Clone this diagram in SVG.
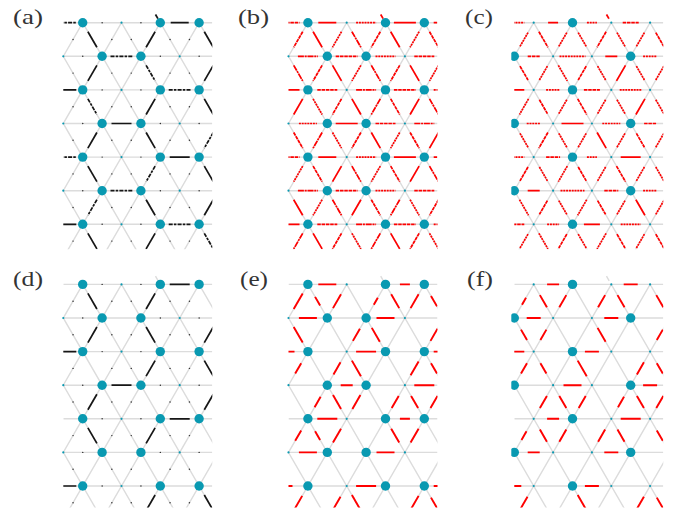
<svg xmlns="http://www.w3.org/2000/svg" width="684" height="515" viewBox="0 0 684 515">
<style>
.lat{fill:none;stroke:#dcdcdc;stroke-width:1.4}
.k{stroke:#161616;stroke-width:1.7}
.kd{stroke:#161616;stroke-width:1.7;stroke-dasharray:4 1.2 2.5 1.2}
.tk{fill:none;stroke:#333;stroke-width:1.4;stroke-linecap:round}
.r{stroke:#ff0000;stroke-width:1.7}
.ra{stroke:#ff0000;stroke-width:1.7;stroke-dasharray:3.5 0.8}
.rb{stroke:#ff0000;stroke-width:1.7;stroke-dasharray:2 0.8}
.rc{stroke:#ff0000;stroke-width:1.7;stroke-dasharray:6 0.8 2 0.8}
.rs{stroke:#ff0000;stroke-width:1.9}
.big{fill:#0999b1}
.sm{fill:#0999b1}
.lbl{font-family:"Liberation Serif",serif;font-size:21px;fill:#333}
</style>
<defs>
<clipPath id="clipT"><rect x="0" y="-10" width="149" height="236.5"/></clipPath>
<clipPath id="clipB"><rect x="0" y="-10" width="149" height="233"/></clipPath>
<clipPath id="clipD"><rect x="-3" y="-10" width="160" height="240"/></clipPath>
<line id="h8" x1="-4" x2="4"/><line id="h10" x1="-5" x2="5"/><line id="h12" x1="-6" x2="6"/>
<line id="h14" x1="-7" x2="7"/><line id="h16" x1="-8" x2="8"/><line id="h18" x1="-9" x2="9"/>
<line id="h20" x1="-10" x2="10"/><line id="h22" x1="-11" x2="11"/><line id="h24" x1="-12" x2="12"/>
<line id="h26" x1="-13" x2="13"/>
<line id="b8" x1="-2" y1="-3.464" x2="2" y2="3.464"/><line id="f8" x1="2" y1="-3.464" x2="-2" y2="3.464"/>
<line id="b10" x1="-2.5" y1="-4.33" x2="2.5" y2="4.33"/><line id="f10" x1="2.5" y1="-4.33" x2="-2.5" y2="4.33"/>
<line id="b12" x1="-3" y1="-5.196" x2="3" y2="5.196"/><line id="f12" x1="3" y1="-5.196" x2="-3" y2="5.196"/>
<line id="b14" x1="-3.5" y1="-6.062" x2="3.5" y2="6.062"/><line id="f14" x1="3.5" y1="-6.062" x2="-3.5" y2="6.062"/>
<line id="b16" x1="-4" y1="-6.928" x2="4" y2="6.928"/><line id="f16" x1="4" y1="-6.928" x2="-4" y2="6.928"/>
<line id="b18" x1="-4.5" y1="-7.794" x2="4.5" y2="7.794"/><line id="f18" x1="4.5" y1="-7.794" x2="-4.5" y2="7.794"/>
<line id="b20" x1="-5" y1="-8.66" x2="5" y2="8.66"/><line id="f20" x1="5" y1="-8.66" x2="-5" y2="8.66"/>
<path id="lat" class="lat" d="M0 0H149M0 33.6H149M0 67.2H149M0 100.8H149M0 134.4H149M0 168H149M0 201.6H149M-135.8 0l155.2 268.8M-97 0l155.2 268.8M-58.2 0l155.2 268.8M-19.4 0l155.2 268.8M19.4 0l155.2 268.8M58.2 0l155.2 268.8M97 0l155.2 268.8M135.8 0l155.2 268.8M19.4 0l-155.2 268.8M58.2 0l-155.2 268.8M97 0l-155.2 268.8M135.8 0l-155.2 268.8M174.6 0l-155.2 268.8M213.4 0l-155.2 268.8M252.2 0l-155.2 268.8M92.2 -8.2L94.9 -3.6"/>
<path id="ticks" class="tk" d="M38.8 0h.1M77.6 0h.1M38.8 67.2h.1M77.6 67.2h.1M38.8 134.4h.1M77.6 134.4h.1M38.8 201.6h.1M77.6 201.6h.1M19.4 33.6h.1M97 33.6h.1M135.8 33.6h.1M19.4 100.8h.1M97 100.8h.1M135.8 100.8h.1M19.4 168h.1M97 168h.1M135.8 168h.1M9.7 16.8h.1M48.5 16.8h.1M67.9 16.8h.1M106.7 16.8h.1M126.1 16.8h.1M9.7 50.4h.1M48.5 50.4h.1M67.9 50.4h.1M106.7 50.4h.1M126.1 50.4h.1M9.7 84h.1M48.5 84h.1M67.9 84h.1M106.7 84h.1M126.1 84h.1M9.7 117.6h.1M48.5 117.6h.1M67.9 117.6h.1M106.7 117.6h.1M126.1 117.6h.1M9.7 151.2h.1M48.5 151.2h.1M67.9 151.2h.1M106.7 151.2h.1M126.1 151.2h.1M9.7 184.8h.1M48.5 184.8h.1M67.9 184.8h.1M106.7 184.8h.1M126.1 184.8h.1M9.7 218.4h.1M48.5 218.4h.1M67.9 218.4h.1M106.7 218.4h.1M126.1 218.4h.1"/>
<g id="dotsHC">
<circle class="big" cx="19.4" cy="0" r="4.7"/><circle class="big" cx="97" cy="0" r="4.7"/><circle class="big" cx="135.8" cy="0" r="4.7"/>
<circle class="big" cx="38.8" cy="33.6" r="4.7"/><circle class="big" cx="77.6" cy="33.6" r="4.7"/>
<circle class="big" cx="19.4" cy="67.2" r="4.7"/><circle class="big" cx="97" cy="67.2" r="4.7"/><circle class="big" cx="135.8" cy="67.2" r="4.7"/>
<circle class="big" cx="38.8" cy="100.8" r="4.7"/><circle class="big" cx="77.6" cy="100.8" r="4.7"/>
<circle class="big" cx="19.4" cy="134.4" r="4.7"/><circle class="big" cx="97" cy="134.4" r="4.7"/><circle class="big" cx="135.8" cy="134.4" r="4.7"/>
<circle class="big" cx="38.8" cy="168" r="4.7"/><circle class="big" cx="77.6" cy="168" r="4.7"/>
<circle class="big" cx="19.4" cy="201.6" r="4.7"/><circle class="big" cx="97" cy="201.6" r="4.7"/><circle class="big" cx="135.8" cy="201.6" r="4.7"/>
<circle class="sm" cx="58.2" cy="0" r="1.1"/><circle class="sm" cx="58.2" cy="67.2" r="1.1"/><circle class="sm" cx="58.2" cy="134.4" r="1.1"/><circle class="sm" cx="58.2" cy="201.6" r="1.1"/>
<circle class="sm" cx="0" cy="33.6" r="1.1"/><circle class="sm" cx="116.4" cy="33.6" r="1.1"/><circle class="sm" cx="0" cy="100.8" r="1.1"/><circle class="sm" cx="116.4" cy="100.8" r="1.1"/><circle class="sm" cx="0" cy="168" r="1.1"/><circle class="sm" cx="116.4" cy="168" r="1.1"/>
</g>
<g id="dotsTR">
<circle class="sm" cx="19.4" cy="0" r="1.1"/><circle class="sm" cx="97" cy="0" r="1.1"/><circle class="sm" cx="135.8" cy="0" r="1.1"/>
<circle class="sm" cx="38.8" cy="33.6" r="1.1"/><circle class="sm" cx="77.6" cy="33.6" r="1.1"/>
<circle class="sm" cx="19.4" cy="67.2" r="1.1"/><circle class="sm" cx="97" cy="67.2" r="1.1"/><circle class="sm" cx="135.8" cy="67.2" r="1.1"/>
<circle class="sm" cx="38.8" cy="100.8" r="1.1"/><circle class="sm" cx="77.6" cy="100.8" r="1.1"/>
<circle class="sm" cx="19.4" cy="134.4" r="1.1"/><circle class="sm" cx="97" cy="134.4" r="1.1"/><circle class="sm" cx="135.8" cy="134.4" r="1.1"/>
<circle class="sm" cx="38.8" cy="168" r="1.1"/><circle class="sm" cx="77.6" cy="168" r="1.1"/>
<circle class="sm" cx="19.4" cy="201.6" r="1.1"/><circle class="sm" cx="97" cy="201.6" r="1.1"/><circle class="sm" cx="135.8" cy="201.6" r="1.1"/>
<circle class="big" cx="58.2" cy="0" r="4.7"/><circle class="big" cx="58.2" cy="67.2" r="4.7"/><circle class="big" cx="58.2" cy="134.4" r="4.7"/><circle class="big" cx="58.2" cy="201.6" r="4.7"/>
<circle class="big" cx="0" cy="33.6" r="4.7"/><circle class="big" cx="116.4" cy="33.6" r="4.7"/><circle class="big" cx="0" cy="100.8" r="4.7"/><circle class="big" cx="116.4" cy="100.8" r="4.7"/><circle class="big" cx="0" cy="168" r="4.7"/><circle class="big" cx="116.4" cy="168" r="4.7"/>
</g>
</defs>

<g id="labels">
<text class="lbl" x="13" y="24" textLength="30" lengthAdjust="spacingAndGlyphs">(a)</text>
<text class="lbl" x="238" y="24" textLength="31" lengthAdjust="spacingAndGlyphs">(b)</text>
<text class="lbl" x="465" y="24" textLength="28" lengthAdjust="spacingAndGlyphs">(c)</text>
<text class="lbl" x="13" y="285.5" textLength="30" lengthAdjust="spacingAndGlyphs">(d)</text>
<text class="lbl" x="240" y="285.5" textLength="28" lengthAdjust="spacingAndGlyphs">(e)</text>
<text class="lbl" x="467" y="285.5" textLength="26" lengthAdjust="spacingAndGlyphs">(f)</text>
</g>

<!-- (a) -->
<g id="panel-a" transform="translate(63.3 22.7)">
<g clip-path="url(#clipT)">
<use href="#lat"/>
<use href="#ticks"/>
<g id="a-connectors">
<line class="k" x1="92.2" y1="-8.2" x2="94.6" y2="-4.1"/>
<use href="#h26" x="0" y="0" class="kd"/><use href="#h18" x="116.4" y="0" class="k"/>
<use href="#h22" x="58.2" y="33.6" class="kd"/>
<use href="#h26" x="0" y="67.2" class="k"/><use href="#h22" x="116.4" y="67.2" class="kd"/>
<use href="#h20" x="58.2" y="100.8" class="k"/>
<use href="#h26" x="0" y="134.4" class="kd"/><use href="#h20" x="116.4" y="134.4" class="k"/>
<use href="#h22" x="58.2" y="168" class="kd"/>
<use href="#h26" x="0" y="201.6" class="k"/><use href="#h22" x="116.4" y="201.6" class="kd"/>
<use href="#b18" x="29.1" y="16.8" class="k"/><use href="#f18" x="87.3" y="16.8" class="k"/><use href="#b18" x="145.5" y="16.8" class="k"/>
<use href="#f18" x="29.1" y="50.4" class="k"/><use href="#b18" x="87.3" y="50.4" class="kd"/><use href="#f18" x="145.5" y="50.4" class="k"/>
<use href="#b18" x="29.1" y="84" class="kd"/><use href="#f18" x="87.3" y="84" class="k"/><use href="#b18" x="145.5" y="84" class="k"/>
<use href="#f18" x="29.1" y="117.6" class="k"/><use href="#b18" x="87.3" y="117.6" class="k"/><use href="#f18" x="145.5" y="117.6" class="kd"/>
<use href="#b18" x="29.1" y="151.2" class="k"/><use href="#f18" x="87.3" y="151.2" class="kd"/><use href="#b18" x="145.5" y="151.2" class="k"/>
<use href="#f18" x="29.1" y="184.8" class="kd"/><use href="#b18" x="87.3" y="184.8" class="k"/><use href="#f18" x="145.5" y="184.8" class="k"/>
<use href="#b18" x="29.1" y="218.4" class="k"/><use href="#f18" x="87.3" y="218.4" class="k"/><use href="#b18" x="145.5" y="218.4" class="kd"/>
</g>
</g>
<g id="a-nodes" clip-path="url(#clipD)"><use href="#dotsHC"/></g>
</g>

<!-- (b) -->
<g id="panel-b" transform="translate(288.5 22.7)">
<g clip-path="url(#clipT)">
<use href="#lat"/>
<g id="b-connectors">
<line class="r" x1="92.2" y1="-8.2" x2="94.6" y2="-4.1"/>
<use href="#h22" x="0" y="0" class="ra"/><use href="#h18" x="38.8" y="0" class="r"/><use href="#h20" x="77.6" y="0" class="rb"/><use href="#h22" x="116.4" y="0" class="r"/><use href="#h20" x="155.2" y="0" class="ra"/>
<use href="#h20" x="19.4" y="33.6" class="rc"/><use href="#h22" x="58.2" y="33.6" class="ra"/><use href="#h20" x="97" y="33.6" class="rb"/><use href="#h20" x="135.8" y="33.6" class="ra"/>
<use href="#h22" x="0" y="67.2" class="r"/><use href="#h20" x="38.8" y="67.2" class="ra"/><use href="#h20" x="77.6" y="67.2" class="rc"/><use href="#h22" x="116.4" y="67.2" class="ra"/><use href="#h20" x="155.2" y="67.2" class="rb"/>
<use href="#h18" x="19.4" y="100.8" class="rb"/><use href="#h22" x="58.2" y="100.8" class="r"/><use href="#h20" x="97" y="100.8" class="ra"/><use href="#h20" x="135.8" y="100.8" class="rc"/>
<use href="#h22" x="0" y="134.4" class="ra"/><use href="#h18" x="38.8" y="134.4" class="r"/><use href="#h20" x="77.6" y="134.4" class="rb"/><use href="#h22" x="116.4" y="134.4" class="r"/><use href="#h20" x="155.2" y="134.4" class="ra"/>
<use href="#h20" x="19.4" y="168" class="rc"/><use href="#h22" x="58.2" y="168" class="ra"/><use href="#h20" x="97" y="168" class="rb"/><use href="#h20" x="135.8" y="168" class="ra"/>
<use href="#h22" x="0" y="201.6" class="r"/><use href="#h20" x="38.8" y="201.6" class="ra"/><use href="#h20" x="77.6" y="201.6" class="rc"/><use href="#h22" x="116.4" y="201.6" class="ra"/><use href="#h20" x="155.2" y="201.6" class="rb"/>
<use href="#f18" x="9.7" y="16.8" class="ra"/><use href="#b18" x="29.1" y="16.8" class="r"/><use href="#f18" x="48.5" y="16.8" class="rb"/><use href="#b18" x="67.9" y="16.8" class="rc"/><use href="#f18" x="87.3" y="16.8" class="ra"/><use href="#b18" x="106.7" y="16.8" class="r"/><use href="#f18" x="126.1" y="16.8" class="rb"/><use href="#b18" x="145.5" y="16.8" class="ra"/>
<use href="#b18" x="9.7" y="50.4" class="rc"/><use href="#f18" x="29.1" y="50.4" class="ra"/><use href="#b18" x="48.5" y="50.4" class="r"/><use href="#f18" x="67.9" y="50.4" class="rb"/><use href="#b18" x="87.3" y="50.4" class="rc"/><use href="#f18" x="106.7" y="50.4" class="ra"/><use href="#b18" x="126.1" y="50.4" class="r"/><use href="#f18" x="145.5" y="50.4" class="rb"/>
<use href="#f18" x="9.7" y="84" class="r"/><use href="#b18" x="29.1" y="84" class="rb"/><use href="#f18" x="48.5" y="84" class="ra"/><use href="#b18" x="67.9" y="84" class="r"/><use href="#f18" x="87.3" y="84" class="rc"/><use href="#b18" x="106.7" y="84" class="ra"/><use href="#f18" x="126.1" y="84" class="r"/><use href="#b18" x="145.5" y="84" class="rc"/>
<use href="#b18" x="9.7" y="117.6" class="ra"/><use href="#f18" x="29.1" y="117.6" class="rc"/><use href="#b18" x="48.5" y="117.6" class="rb"/><use href="#f18" x="67.9" y="117.6" class="ra"/><use href="#b18" x="87.3" y="117.6" class="r"/><use href="#f18" x="106.7" y="117.6" class="rb"/><use href="#b18" x="126.1" y="117.6" class="ra"/><use href="#f18" x="145.5" y="117.6" class="r"/>
<use href="#f18" x="9.7" y="151.2" class="rb"/><use href="#b18" x="29.1" y="151.2" class="ra"/><use href="#f18" x="48.5" y="151.2" class="r"/><use href="#b18" x="67.9" y="151.2" class="rc"/><use href="#f18" x="87.3" y="151.2" class="rb"/><use href="#b18" x="106.7" y="151.2" class="ra"/><use href="#f18" x="126.1" y="151.2" class="r"/><use href="#b18" x="145.5" y="151.2" class="rc"/>
<use href="#b18" x="9.7" y="184.8" class="r"/><use href="#f18" x="29.1" y="184.8" class="rb"/><use href="#b18" x="48.5" y="184.8" class="rc"/><use href="#f18" x="67.9" y="184.8" class="r"/><use href="#b18" x="87.3" y="184.8" class="ra"/><use href="#f18" x="106.7" y="184.8" class="rc"/><use href="#b18" x="126.1" y="184.8" class="rb"/><use href="#f18" x="145.5" y="184.8" class="ra"/>
<use href="#f18" x="9.7" y="218.4" class="rc"/><use href="#b18" x="29.1" y="218.4" class="r"/><use href="#f18" x="48.5" y="218.4" class="ra"/><use href="#b18" x="67.9" y="218.4" class="rb"/><use href="#f18" x="87.3" y="218.4" class="rc"/><use href="#b18" x="106.7" y="218.4" class="r"/><use href="#f18" x="126.1" y="218.4" class="ra"/><use href="#b18" x="145.5" y="218.4" class="rb"/>
</g>
</g>
<g id="b-nodes" clip-path="url(#clipD)"><use href="#dotsHC"/></g>
</g>

<!-- (c) -->
<g id="panel-c" transform="translate(514.3 22.7)">
<g clip-path="url(#clipT)">
<use href="#lat"/>
<g id="c-connectors">
<line class="r" x1="92.2" y1="-8.2" x2="94.6" y2="-4.1"/>
<use href="#h20" x="0" y="0" class="rb"/><use href="#h10" x="38.8" y="0" class="r"/><use href="#h10" x="77.6" y="0" class="rb"/><use href="#h16" x="116.4" y="0" class="ra"/>
<use href="#h12" x="19.4" y="33.6" class="ra"/><use href="#h26" x="58.2" y="33.6" class="rb"/><use href="#h12" x="97" y="33.6" class="r"/><use href="#h14" x="135.8" y="33.6" class="rb"/>
<use href="#h20" x="0" y="67.2" class="r"/><use href="#h14" x="38.8" y="67.2" class="rb"/><use href="#h16" x="77.6" y="67.2" class="ra"/><use href="#h22" x="116.4" y="67.2" class="rb"/>
<use href="#h14" x="19.4" y="100.8" class="rb"/><use href="#h22" x="58.2" y="100.8" class="r"/><use href="#h18" x="97" y="100.8" class="rb"/><use href="#h12" x="135.8" y="100.8" class="ra"/>
<use href="#h20" x="0" y="134.4" class="rb"/><use href="#h14" x="38.8" y="134.4" class="ra"/><use href="#h10" x="77.6" y="134.4" class="rb"/><use href="#h20" x="116.4" y="134.4" class="r"/>
<use href="#h12" x="19.4" y="168" class="r"/><use href="#h24" x="58.2" y="168" class="rb"/><use href="#h14" x="97" y="168" class="ra"/><use href="#h14" x="135.8" y="168" class="rb"/>
<use href="#h20" x="0" y="201.6" class="ra"/><use href="#h12" x="38.8" y="201.6" class="rb"/><use href="#h16" x="77.6" y="201.6" class="r"/><use href="#h20" x="116.4" y="201.6" class="rb"/>
<use href="#f16" x="9.7" y="16.8" class="rb"/><use href="#b18" x="29.1" y="16.8" class="ra"/><use href="#f16" x="48.5" y="16.8" class="rb"/><use href="#b16" x="67.9" y="16.8" class="rb"/><use href="#f18" x="87.3" y="16.8" class="ra"/><use href="#b16" x="106.7" y="16.8" class="rb"/><use href="#f16" x="126.1" y="16.8" class="rb"/><use href="#b16" x="145.5" y="16.8" class="ra"/>
<use href="#b16" x="9.7" y="50.4" class="ra"/><use href="#f16" x="29.1" y="50.4" class="rb"/><use href="#b18" x="48.5" y="50.4" class="rb"/><use href="#f16" x="67.9" y="50.4" class="ra"/><use href="#b16" x="87.3" y="50.4" class="rb"/><use href="#f18" x="106.7" y="50.4" class="r"/><use href="#b16" x="126.1" y="50.4" class="rb"/><use href="#f16" x="145.5" y="50.4" class="rb"/>
<use href="#f18" x="9.7" y="84" class="rb"/><use href="#b16" x="29.1" y="84" class="ra"/><use href="#f16" x="48.5" y="84" class="rb"/><use href="#b18" x="67.9" y="84" class="ra"/><use href="#f16" x="87.3" y="84" class="rb"/><use href="#b16" x="106.7" y="84" class="rb"/><use href="#f18" x="126.1" y="84" class="r"/><use href="#b16" x="145.5" y="84" class="rb"/>
<use href="#b16" x="9.7" y="117.6" class="rb"/><use href="#f18" x="29.1" y="117.6" class="ra"/><use href="#b16" x="48.5" y="117.6" class="rb"/><use href="#f16" x="67.9" y="117.6" class="rb"/><use href="#b18" x="87.3" y="117.6" class="r"/><use href="#f16" x="106.7" y="117.6" class="rb"/><use href="#b16" x="126.1" y="117.6" class="ra"/><use href="#f16" x="145.5" y="117.6" class="rb"/>
<use href="#f16" x="9.7" y="151.2" class="ra"/><use href="#b16" x="29.1" y="151.2" class="rb"/><use href="#f18" x="48.5" y="151.2" class="rb"/><use href="#b16" x="67.9" y="151.2" class="ra"/><use href="#f16" x="87.3" y="151.2" class="rb"/><use href="#b18" x="106.7" y="151.2" class="ra"/><use href="#f16" x="126.1" y="151.2" class="rb"/><use href="#b16" x="145.5" y="151.2" class="rb"/>
<use href="#b18" x="9.7" y="184.8" class="rb"/><use href="#f16" x="29.1" y="184.8" class="ra"/><use href="#b16" x="48.5" y="184.8" class="rb"/><use href="#f18" x="67.9" y="184.8" class="rb"/><use href="#b16" x="87.3" y="184.8" class="ra"/><use href="#f16" x="106.7" y="184.8" class="rb"/><use href="#b18" x="126.1" y="184.8" class="r"/><use href="#f16" x="145.5" y="184.8" class="rb"/>
<use href="#f16" x="9.7" y="218.4" class="rb"/><use href="#b18" x="29.1" y="218.4" class="rb"/><use href="#f16" x="48.5" y="218.4" class="ra"/><use href="#b16" x="67.9" y="218.4" class="rb"/><use href="#f18" x="87.3" y="218.4" class="rb"/><use href="#b16" x="106.7" y="218.4" class="ra"/><use href="#f16" x="126.1" y="218.4" class="rb"/><use href="#b16" x="145.5" y="218.4" class="ra"/>
</g>
</g>
<g id="c-nodes" clip-path="url(#clipD)"><use href="#dotsTR"/></g>
</g>

<!-- (d) -->
<g id="panel-d" transform="translate(63.3 284.4)">
<g clip-path="url(#clipB)">
<use href="#lat"/>
<use href="#ticks"/>
<g id="d-connectors" class="k">
<use href="#h20" x="116.4" y="0"/>
<use href="#h26" x="0" y="67.2"/>
<use href="#h20" x="58.2" y="100.8"/>
<use href="#h20" x="116.4" y="134.4"/>
<use href="#h26" x="0" y="201.6"/>
<use href="#b18" x="29.1" y="16.8"/><use href="#f18" x="87.3" y="16.8"/>
<use href="#f18" x="29.1" y="50.4"/><use href="#b18" x="87.3" y="50.4"/><use href="#f18" x="145.5" y="50.4"/>
<use href="#f18" x="87.3" y="84"/><use href="#b18" x="145.5" y="84"/>
<use href="#f18" x="29.1" y="117.6"/><use href="#f18" x="145.5" y="117.6"/>
<use href="#b18" x="29.1" y="151.2"/><use href="#f18" x="87.3" y="151.2"/>
<use href="#f18" x="87.3" y="218.4"/><use href="#b18" x="145.5" y="218.4"/>
</g>
</g>
<g id="d-nodes" clip-path="url(#clipD)"><use href="#dotsHC"/></g>
</g>

<!-- (e) -->
<g id="panel-e" transform="translate(288.5 284.4)">
<g clip-path="url(#clipB)">
<use href="#lat"/>
<g id="e-connectors" class="rs">
<use href="#h18" x="38.8" y="0"/><use href="#h10" x="116.4" y="0"/>
<use href="#h18" x="19.4" y="33.6"/><use href="#h18" x="97" y="33.6"/>
<use href="#h12" x="0" y="67.2"/><use href="#h20" x="77.6" y="67.2"/><use href="#h20" x="155.2" y="67.2"/>
<use href="#h12" x="58.2" y="100.8"/><use href="#h20" x="135.8" y="100.8"/>
<use href="#h20" x="38.8" y="134.4"/><use href="#h10" x="116.4" y="134.4"/>
<use href="#h18" x="19.4" y="168"/><use href="#h18" x="97" y="168"/>
<use href="#h8" x="0" y="201.6"/><use href="#h20" x="77.6" y="201.6"/><use href="#h20" x="155.2" y="201.6"/>
<use href="#f18" x="9.7" y="16.8"/><use href="#b10" x="29.1" y="16.8"/><use href="#f16" x="48.5" y="16.8"/><use href="#f8" x="87.3" y="16.8"/><use href="#b16" x="106.7" y="16.8"/><use href="#f16" x="126.1" y="16.8"/><use href="#b12" x="145.5" y="16.8"/>
<use href="#b18" x="9.7" y="50.4"/><use href="#f14" x="67.9" y="50.4"/><use href="#b16" x="87.3" y="50.4"/><use href="#f14" x="145.5" y="50.4"/>
<use href="#f12" x="9.7" y="84"/><use href="#f14" x="48.5" y="84"/><use href="#b18" x="67.9" y="84"/><use href="#f16" x="126.1" y="84"/><use href="#b12" x="145.5" y="84"/>
<use href="#f12" x="29.1" y="117.6"/><use href="#b16" x="48.5" y="117.6"/><use href="#f16" x="67.9" y="117.6"/><use href="#f14" x="106.7" y="117.6"/><use href="#b14" x="126.1" y="117.6"/><use href="#f14" x="145.5" y="117.6"/>
<use href="#f12" x="9.7" y="151.2"/><use href="#b10" x="29.1" y="151.2"/><use href="#f16" x="48.5" y="151.2"/><use href="#b16" x="106.7" y="151.2"/><use href="#f16" x="126.1" y="151.2"/>
<use href="#f16" x="9.7" y="218.4"/><use href="#f14" x="48.5" y="218.4"/><use href="#b18" x="67.9" y="218.4"/><use href="#f16" x="126.1" y="218.4"/><use href="#b12" x="145.5" y="218.4"/>
</g>
</g>
<g id="e-nodes" clip-path="url(#clipD)"><use href="#dotsHC"/></g>
</g>

<!-- (f) -->
<g id="panel-f" transform="translate(514.3 284.4)">
<g clip-path="url(#clipB)">
<use href="#lat"/>
<g id="f-connectors" class="rs">
<use href="#h12" x="38.8" y="0"/><use href="#h14" x="116.4" y="0"/>
<use href="#h14" x="19.4" y="33.6"/><use href="#h14" x="97" y="33.6"/>
<use href="#h20" x="0" y="67.2"/><use href="#h14" x="77.6" y="67.2"/>
<use href="#h18" x="58.2" y="100.8"/><use href="#h14" x="135.8" y="100.8"/>
<use href="#h12" x="38.8" y="134.4"/><use href="#h20" x="116.4" y="134.4"/>
<use href="#h12" x="19.4" y="168"/><use href="#h14" x="97" y="168"/>
<use href="#h14" x="0" y="201.6"/><use href="#h14" x="77.6" y="201.6"/>
<use href="#f8" x="9.7" y="16.8"/><use href="#b14" x="29.1" y="16.8"/><use href="#f14" x="48.5" y="16.8"/><use href="#f14" x="87.3" y="16.8"/><use href="#b14" x="106.7" y="16.8"/><use href="#b14" x="145.5" y="16.8"/>
<use href="#b12" x="9.7" y="50.4"/><use href="#f12" x="29.1" y="50.4"/><use href="#b16" x="87.3" y="50.4"/><use href="#f12" x="145.5" y="50.4"/>
<use href="#f12" x="9.7" y="84"/><use href="#b12" x="29.1" y="84"/><use href="#b18" x="67.9" y="84"/><use href="#f14" x="126.1" y="84"/><use href="#b12" x="145.5" y="84"/>
<use href="#f14" x="29.1" y="117.6"/><use href="#b14" x="48.5" y="117.6"/><use href="#f14" x="67.9" y="117.6"/><use href="#f12" x="106.7" y="117.6"/><use href="#b14" x="126.1" y="117.6"/><use href="#f14" x="145.5" y="117.6"/>
<use href="#f10" x="9.7" y="151.2"/><use href="#b14" x="29.1" y="151.2"/><use href="#f14" x="48.5" y="151.2"/><use href="#f14" x="87.3" y="151.2"/><use href="#b14" x="106.7" y="151.2"/><use href="#b12" x="145.5" y="151.2"/>
<use href="#f14" x="9.7" y="218.4"/><use href="#b18" x="67.9" y="218.4"/><use href="#f14" x="126.1" y="218.4"/><use href="#b12" x="145.5" y="218.4"/>
</g>
</g>
<g id="f-nodes" clip-path="url(#clipD)"><use href="#dotsTR"/></g>
</g>
</svg>
